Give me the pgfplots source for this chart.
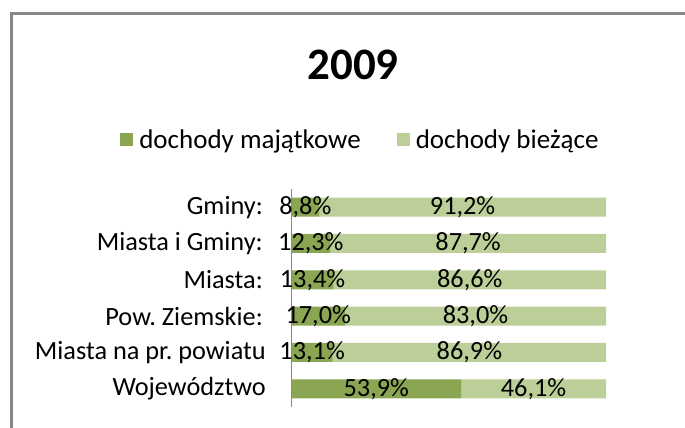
\documentclass[border=0pt]{standalone}
\usepackage{fontspec}
\setmainfont{Carlito}
\usepackage{pgfplots}
\usepackage{pgfplotstable}
\pgfplotsset{compat=1.18}
\frenchspacing
\definecolor{darkg}{RGB}{139,166,82}
\definecolor{lightg}{RGB}{188,207,152}
\definecolor{framegray}{RGB}{135,135,135}
\pgfplotstableread{
y a b la lb
5 8.8 91.2 8,8\% 91,2\%
4 12.3 87.7 12,3\% 87,7\%
3 13.4 86.6 13,4\% 86,6\%
2 17.0 83.0 17,0\% 83,0\%
1 13.1 86.9 13,1\% 86,9\%
0 53.9 46.1 53,9\% 46,1\%
}\data
\pgfplotsset{geom/.style={
  at={(291.5pt,21pt)}, anchor=south west,
  scale only axis, width=314.5pt, height=218pt,
  xmin=0, xmax=100, ymin=-0.5, ymax=5.5}}
\begin{document}
\begin{tikzpicture}[x=1pt,y=1pt]
\path[use as bounding box] (0,0) rectangle (685,428);
\draw[line width=3pt, framegray] (11,-20) -- (11,414.5) -- (720,414.5);
\node[anchor=base, font=\fontsize{45}{54}\selectfont\bfseries] at (353,348) {2009};
\begin{axis}[geom,
  xbar stacked, bar width=19pt,
  axis x line=none,
  axis y line*=left,
  y axis line style={draw=framegray, line width=0.8pt, -},
  ytick={0,...,5},
  yticklabels={Województwo, Miasta na pr. powiatu, Pow. Ziemskie:\hspace{3pt}\mbox{}, Miasta:\hspace{3pt}\mbox{}, Miasta i Gminy:\hspace{3pt}\mbox{}, Gminy:\hspace{3pt}\mbox{}},
  major tick length=0pt,
  yticklabel style={font=\fontsize{26.3}{32}\selectfont, anchor=east, inner sep=0pt, xshift=-25.5pt},
  legend columns=2,
  legend style={draw=none, fill=none, inner sep=0pt, at={(-0.545,1.225)}, anchor=west,
    font=\fontsize{27}{33}\selectfont,
    /tikz/every odd column/.append style={column sep=4pt},
    /tikz/every even column/.append style={column sep=34pt}},
  legend image code/.code={\fill[#1] (0pt,-6.5pt) rectangle (13pt,6.5pt);},
]
\addplot[fill=darkg, draw=none] table[x=a,y=y]{\data};
\addlegendentry{dochody majątkowe}
\addplot[fill=lightg, draw=none] table[x=b,y=y]{\data};
\addlegendentry{dochody bieżące}
\end{axis}
\begin{axis}[geom, hide axis]
\addplot[only marks, mark=none, nodes near coords, point meta=explicit symbolic,
  every node near coord/.style={anchor=center, font=\fontsize{26.3}{32}\selectfont, text=black, inner sep=0pt}]
  table[x expr=\thisrow{a}/2, y=y, meta=la]{\data};
\addplot[only marks, mark=none, nodes near coords, point meta=explicit symbolic,
  every node near coord/.style={anchor=center, font=\fontsize{26.3}{32}\selectfont, text=black, inner sep=0pt}]
  table[x expr=\thisrow{a}+\thisrow{b}/2, y=y, meta=lb]{\data};
\end{axis}
\end{tikzpicture}
\end{document}
